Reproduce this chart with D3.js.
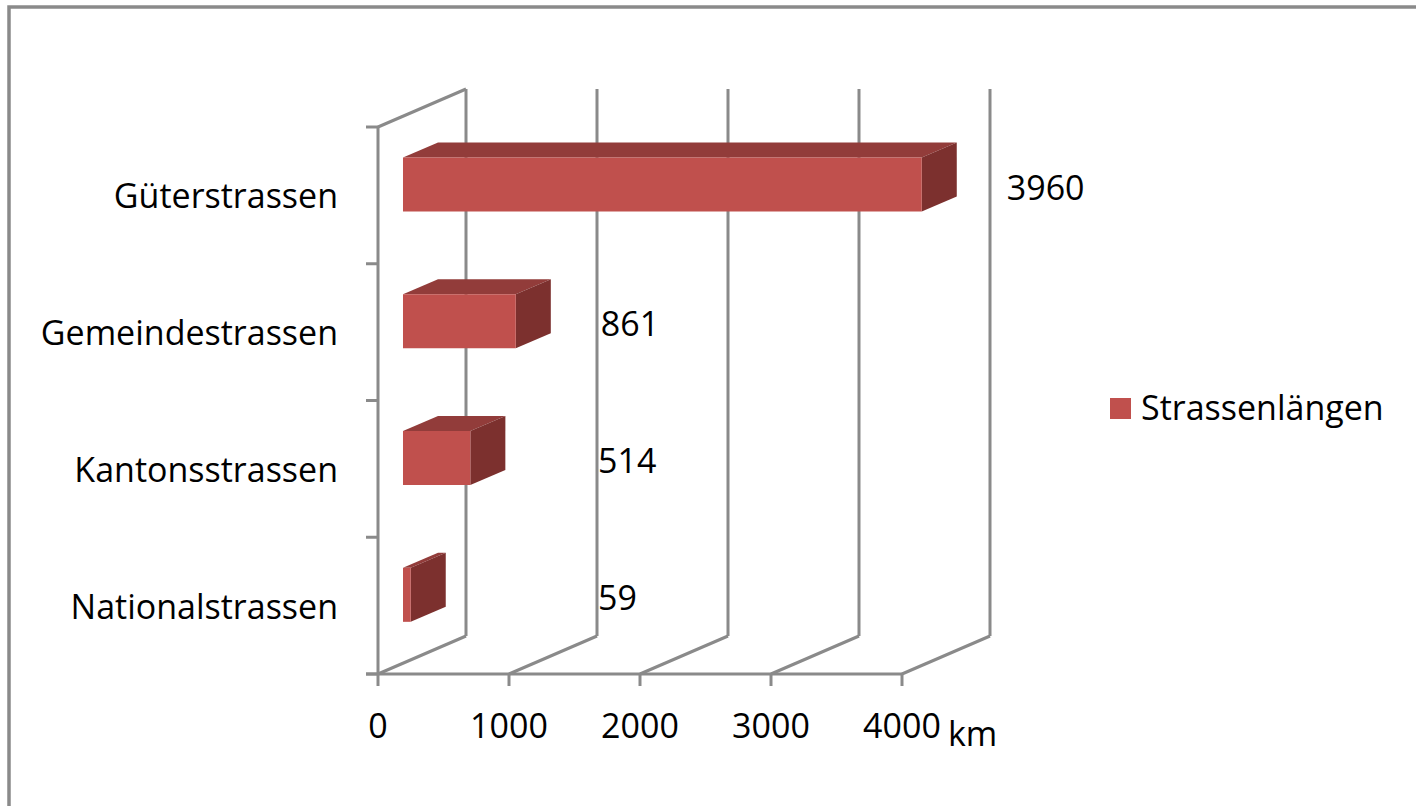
<!DOCTYPE html>
<html>
<head>
<meta charset="utf-8">
<script src="https://cdn.jsdelivr.net/npm/d3@7"></script>
<style>
  body { margin: 0; background: #fff; }
  svg text { font-family: "Open Sans", sans-serif; font-size: 34px; fill: #000; }
</style>
</head>
<body>
<svg id="chart" width="1416" height="806"></svg>
<script>
// data
var categories = ["Güterstrassen", "Gemeindestrassen", "Kantonsstrassen", "Nationalstrassen"];
var lengths = [3960, 861, 514, 59];
var ticks = [0, 1000, 2000, 3000, 4000];
var seriesName = "Strassenlängen";
var unit = "km";

var svg = d3.select("#chart");

// frame of the chart area
svg.append("rect")
    .attr("x", 9).attr("y", 7)
    .attr("width", 1430).attr("height", 830)
    .attr("fill", "none")
    .attr("stroke", "#8a8a8a")
    .attr("stroke-width", 3.5);

var x = d3.scaleLinear().domain([0, 4000]).range([378, 902]);
var y = d3.scaleBand().domain(categories).range([127, 674]);

// 3d depth offset of the back wall
var depthX = 88, depthY = -38;
var d0 = 0.284, d1 = 0.682;      // bar front / back depth
var barH = 54;
var grid = "#8a8a8a";

var walls = svg.append("g")
    .attr("stroke", grid)
    .attr("stroke-width", 3)
    .attr("fill", "none");

// back wall gridlines
walls.selectAll(".back")
    .data(ticks)
    .enter().append("line")
        .attr("x1", d => x(d) + depthX)
        .attr("x2", d => x(d) + depthX)
        .attr("y1", y.range()[0] + depthY)
        .attr("y2", y.range()[1] + depthY);

// floor lines
walls.selectAll(".floor")
    .data(ticks)
    .enter().append("line")
        .attr("x1", d => x(d))
        .attr("y1", y.range()[1])
        .attr("x2", d => x(d) + depthX)
        .attr("y2", y.range()[1] + depthY);

// left wall top edge
walls.append("line")
    .attr("x1", x(0)).attr("y1", y.range()[0])
    .attr("x2", x(0) + depthX).attr("y2", y.range()[0] + depthY);

// vertical axis + ticks
walls.append("line")
    .attr("x1", x(0)).attr("x2", x(0))
    .attr("y1", y.range()[0]).attr("y2", y.range()[1]);
var catEdges = categories.map(c => y(c)).concat([y.range()[1]]);
walls.selectAll(".ytick")
    .data(catEdges)
    .enter().append("line")
        .attr("x1", x(0) - 12).attr("x2", x(0))
        .attr("y1", d => d).attr("y2", d => d);

// horizontal axis + ticks
walls.append("line")
    .attr("x1", x(0) - 12).attr("x2", x(4000))
    .attr("y1", y.range()[1]).attr("y2", y.range()[1]);
walls.selectAll(".xtick")
    .data(ticks)
    .enter().append("line")
        .attr("x1", d => x(d)).attr("x2", d => x(d))
        .attr("y1", y.range()[1]).attr("y2", y.range()[1] + 12);

// bars
var data = categories.map(function(c, i) { return {cat: c, v: lengths[i]}; });

function pt(v, yy, d) {
    return [x(v) + depthX * d, yy + depthY * d];
}

var bars = svg.append("g").selectAll("g")
    .data(data)
    .enter().append("g");

bars.each(function(d) {
    var g = d3.select(this);
    var cy = y(d.cat) + y.bandwidth() / 2;
    var top = cy - barH / 2, bot = cy + barH / 2;
    var a = pt(0, top, d0), b = pt(d.v, top, d0), c = pt(d.v, bot, d0), e = pt(0, bot, d0);
    var a2 = pt(0, top, d1), b2 = pt(d.v, top, d1), c2 = pt(d.v, bot, d1);
    g.append("polygon")
        .attr("points", [a, b, b2, a2].join(" "))
        .attr("fill", "#923c3a");
    g.append("polygon")
        .attr("points", [b, c, c2, b2].join(" "))
        .attr("fill", "#7c302e");
    g.append("polygon")
        .attr("points", [a, b, c, e].join(" "))
        .attr("fill", "#c0504d");
});

// value labels
svg.append("g").selectAll("text")
    .data(data)
    .enter().append("text")
        .attr("x", d => Math.max(x(d.v) + depthX * d1 + 50, 598))
        .attr("y", d => y(d.cat) + y.bandwidth() / 2 + depthY * d0 + 15)
        .text(d => d.v);

// category labels
svg.append("g").selectAll("text")
    .data(categories)
    .enter().append("text")
        .attr("x", 338)
        .attr("y", d => y(d) + y.bandwidth() / 2 + 13)
        .attr("text-anchor", "end")
        .text(d => d);

// tick labels
svg.append("g").selectAll("text")
    .data(ticks)
    .enter().append("text")
        .attr("x", d => x(d))
        .attr("y", 738)
        .attr("text-anchor", "middle")
        .text(d => d);

svg.append("text")
    .attr("x", 948).attr("y", 746)
    .text(unit);

// legend
var legend = svg.append("g");
legend.append("rect")
    .attr("x", 1110).attr("y", 398)
    .attr("width", 21).attr("height", 21)
    .attr("fill", "#c0504d");
legend.append("text")
    .attr("x", 1141).attr("y", 420)
    .text(seriesName);
</script>
</body>
</html>
